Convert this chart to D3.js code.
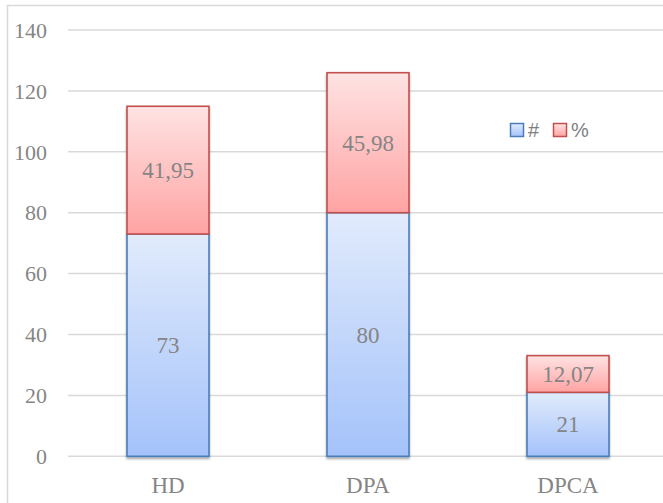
<!DOCTYPE html>
<html>
<head>
<meta charset="utf-8">
<script src="https://cdn.jsdelivr.net/npm/d3@7"></script>
<style>
  body { margin: 0; background: #fff; }
</style>
</head>
<body>
<div id="chart"></div>
<script>
// stacked bars: count (#) and percent (%)
var categories = ["HD", "DPA", "DPCA"]
var countValues = [73, 80, 21]
var percentValues = [41.95, 45.98, 12.07]
var yTicks = [0, 20, 40, 60, 80, 100, 120, 140]

var width = 663
var height = 503
var margin = { left: 68, right: -5, top: 30, bottom: 46.7 }

var svg = d3.select("#chart")
  .append("svg")
    .attr("width", width)
    .attr("height", height)

var defs = svg.append("defs")

// gradients like the office fills
var blue = defs.append("linearGradient").attr("id", "gBlue")
  .attr("x1", 0).attr("y1", 0).attr("x2", 0).attr("y2", 1)
blue.append("stop").attr("offset", "0%").attr("stop-color", "#e1ebfc")
blue.append("stop").attr("offset", "100%").attr("stop-color", "#a4c2fa")

var red = defs.append("linearGradient").attr("id", "gRed")
  .attr("x1", 0).attr("y1", 0).attr("x2", 0).attr("y2", 1)
red.append("stop").attr("offset", "0%").attr("stop-color", "#ffe3e3")
red.append("stop").attr("offset", "100%").attr("stop-color", "#ffa3a3")

var shadow = defs.append("filter").attr("id", "shadow")
  .attr("x", "-10%").attr("y", "-10%").attr("width", "120%").attr("height", "130%")
shadow.append("feDropShadow")
  .attr("dx", 0).attr("dy", 2).attr("stdDeviation", 1.3)
  .attr("flood-color", "#000").attr("flood-opacity", 0.35)

// outer chart border (right and bottom fall off the picture)
svg.append("rect")
  .attr("x", 7.5).attr("y", 5.5)
  .attr("width", 700).attr("height", 600)
  .attr("fill", "none")
  .attr("stroke", "#d9d9d9")
  .attr("stroke-width", 1.5)

var x = d3.scaleBand()
  .domain(categories)
  .range([margin.left, width - margin.right])
  .paddingInner(0.59)
  .paddingOuter(0.295)

var y = d3.scaleLinear()
  .domain([0, 140])
  .range([height - margin.bottom, margin.top])

// grid
svg.append("g")
  .selectAll("line")
  .data(yTicks)
  .enter()
  .append("line")
    .attr("x1", margin.left)
    .attr("x2", width + 10)
    .attr("y1", function(d) { return y(d) })
    .attr("y2", function(d) { return y(d) })
    .attr("stroke", "#d9d9d9")
    .attr("stroke-width", 1.5)

var serif = "'Liberation Serif', 'DejaVu Serif', serif"

// y tick labels
svg.append("g")
  .selectAll("text")
  .data(yTicks)
  .enter()
  .append("text")
    .attr("x", 47)
    .attr("y", function(d) { return y(d) })
    .attr("dy", "0.35em")
    .attr("text-anchor", "end")
    .style("font-family", serif)
    .style("font-size", "22px")
    .style("fill", "#858585")
    .text(function(d) { return d })

var rows = categories.map(function(c, i) {
  return { cat: c, count: countValues[i], pct: percentValues[i] }
})

var fmt = function(v) { return String(v).replace(".", ",") }

var bars = svg.append("g").attr("filter", "url(#shadow)")

// count segment
bars.selectAll("rect.count")
  .data(rows)
  .enter()
  .append("rect")
    .attr("class", "count")
    .attr("x", function(d) { return x(d.cat) })
    .attr("width", x.bandwidth())
    .attr("y", function(d) { return y(d.count) })
    .attr("height", function(d) { return y(0) - y(d.count) })
    .attr("fill", "url(#gBlue)")
    .attr("stroke", "#4a7ebb")
    .attr("stroke-width", 1.6)

// percent segment stacked on top
bars.selectAll("rect.pct")
  .data(rows)
  .enter()
  .append("rect")
    .attr("class", "pct")
    .attr("x", function(d) { return x(d.cat) })
    .attr("width", x.bandwidth())
    .attr("y", function(d) { return y(d.count + d.pct) })
    .attr("height", function(d) { return y(d.count) - y(d.count + d.pct) })
    .attr("fill", "url(#gRed)")
    .attr("stroke", "#c0504d")
    .attr("stroke-width", 1.6)

// value labels
var labels = svg.append("g")
  .style("font-family", serif)
  .style("font-size", "23px")
  .style("fill", "#858585")
  .attr("text-anchor", "middle")

labels.selectAll("text.count")
  .data(rows)
  .enter()
  .append("text")
    .attr("x", function(d) { return x(d.cat) + x.bandwidth() / 2 })
    .attr("y", function(d) { return (y(0) + y(d.count)) / 2 })
    .attr("dy", "0.35em")
    .text(function(d) { return fmt(d.count) })

labels.selectAll("text.pct")
  .data(rows)
  .enter()
  .append("text")
    .attr("x", function(d) { return x(d.cat) + x.bandwidth() / 2 })
    .attr("y", function(d) { return (y(d.count) + y(d.count + d.pct)) / 2 })
    .attr("dy", "0.35em")
    .text(function(d) { return fmt(d.pct) })

// category labels
svg.append("g")
  .selectAll("text")
  .data(categories)
  .enter()
  .append("text")
    .attr("x", function(d) { return x(d) + x.bandwidth() / 2 })
    .attr("y", 493)
    .attr("text-anchor", "middle")
    .style("font-family", serif)
    .style("font-size", "23px")
    .style("fill", "#858585")
    .text(function(d) { return d })

// legend
var legend = svg.append("g")
var items = [
  { name: "#", fill: "url(#gBlue)", stroke: "#4a7ebb", x: 510 },
  { name: "%", fill: "url(#gRed)", stroke: "#c0504d", x: 553 }
]
legend.selectAll("rect")
  .data(items)
  .enter()
  .append("rect")
    .attr("x", function(d) { return d.x + 0.5 })
    .attr("y", 123.5)
    .attr("width", 13)
    .attr("height", 13)
    .attr("fill", function(d) { return d.fill })
    .attr("stroke", function(d) { return d.stroke })
    .attr("stroke-width", 1.5)
legend.selectAll("text")
  .data(items)
  .enter()
  .append("text")
    .attr("x", function(d) { return d.x + 18 })
    .attr("y", 130)
    .attr("dy", "0.35em")
    .style("font-family", "'Liberation Sans', Arial, sans-serif")
    .style("font-size", "20px")
    .style("fill", "#7f7f7f")
    .text(function(d) { return d.name })
</script>
</body>
</html>
